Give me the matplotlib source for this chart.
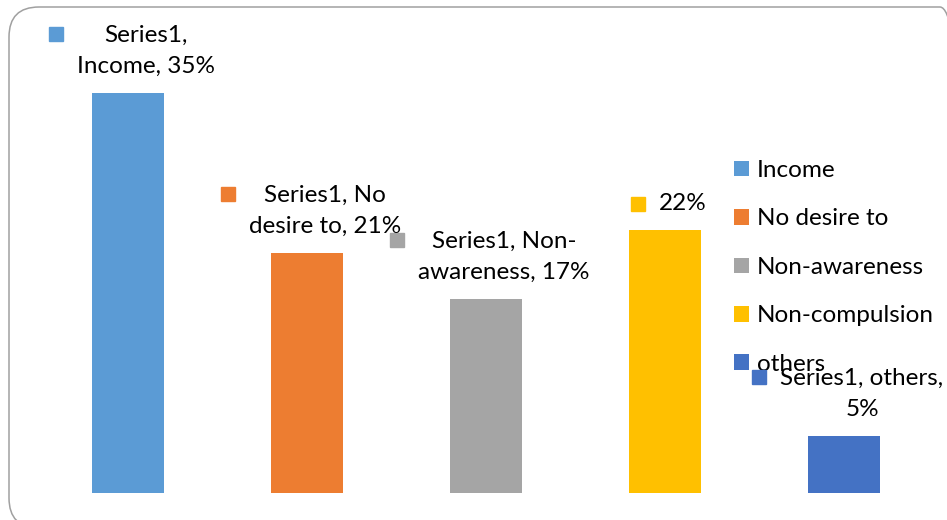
import matplotlib
matplotlib.use("Agg")
import matplotlib.pyplot as plt
from matplotlib.patches import Patch, FancyBboxPatch

categories = ["Income", "No desire to", "Non-awareness", "Non-compulsion", "others"]
values = [35, 21, 17, 23, 5]
label_texts = ["Series1,\nIncome, 35%", "Series1, No\ndesire to, 21%",
               "Series1, Non-\nawareness, 17%", "22%", "Series1, others,\n5%"]
colors = ["#5B9BD5", "#ED7D31", "#A5A5A5", "#FFC000", "#4472C4"]

W, H = 947, 520
fig = plt.figure(figsize=(W / 100, H / 100), dpi=100)
plt.rcParams['font.family'] = ['Lato', 'DejaVu Sans']
FS = 17.5

ax = fig.add_axes([0, 27 / H, 1, 493 / H])
x = list(range(len(categories)))
ax.bar(x, values, width=0.40, color=colors, zorder=2)
ax.set_xlim((0 - 128) / 179, (W - 128) / 179)
ax.set_ylim(0, 493 / (400 / 35))
ax.axis('off')

# data labels
texts = []
for i, (v, t) in enumerate(zip(values, label_texts)):
    up = 26.5 if "\n" not in t else 42
    tx = ax.annotate(t, xy=(i, v), xytext=(18, up), textcoords='offset pixels',
                     ha='center', va='center', fontsize=FS, color='#000000',
                     linespacing=1.62, zorder=5)
    texts.append(tx)

fig.canvas.draw()
r = fig.canvas.get_renderer()
inv = ax.transData.inverted()
for i, tx in enumerate(texts):
    bb = tx.get_window_extent(r)
    n = len(label_texts[i].split("\n"))
    cy = bb.y0 + bb.height / 2
    my = cy + (n - 1) * 17
    mx = bb.x0 - 21
    dx, dy = inv.transform((mx, my))
    ax.plot([dx], [dy], marker='s', markersize=10.5, color=colors[i],
            linestyle='none', clip_on=False, zorder=4)

# legend
handles = [Patch(facecolor=c, edgecolor='none') for c in colors]
leg = ax.legend(handles, categories, loc='upper left',
                bbox_to_anchor=(734 / W, (H - 160) / H),
                bbox_transform=fig.transFigure, frameon=False, fontsize=FS,
                handlelength=0.62, handleheight=0.62, handletextpad=0.33,
                labelspacing=1.13, borderpad=0, borderaxespad=0)
leg.set_zorder(3)

# rounded outer border
box = FancyBboxPatch((9 + 30, (H - 528) + 30), (970 - 9) - 60, (528 - 7) - 60,
                     boxstyle="round,pad=30", transform=None,
                     facecolor='none', edgecolor='#a0a0a0', linewidth=1.1,
                     clip_on=False)
fig.patches.append(box)

fig.savefig("out.png", dpi=100)
